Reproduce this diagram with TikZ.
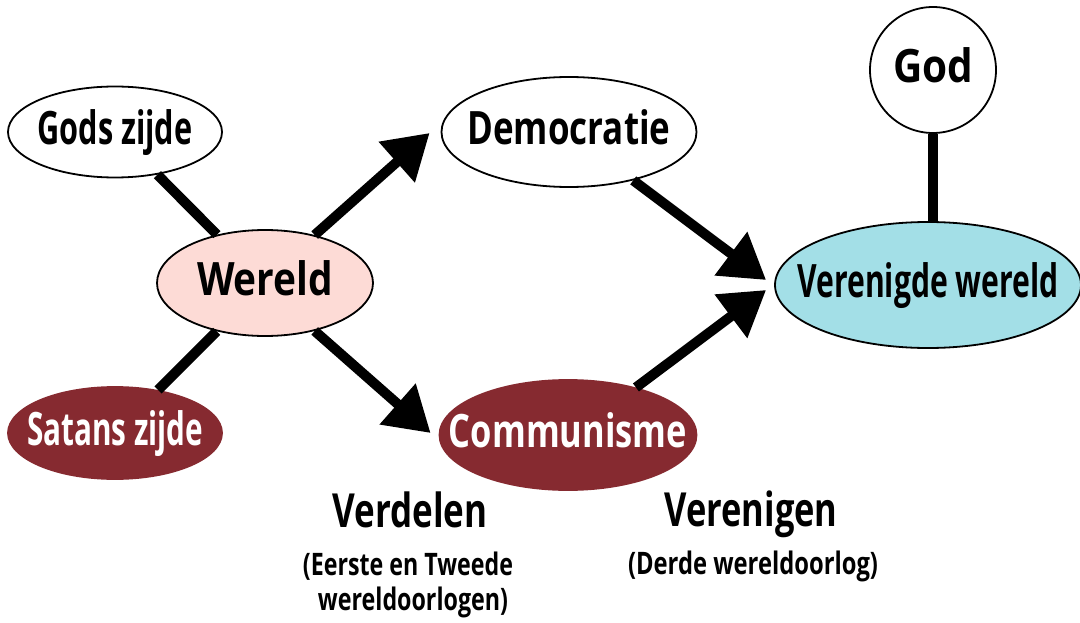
\documentclass[tikz,border=0pt]{standalone}
\usepackage{fontspec}
\usepackage{graphicx}
\newfontfamily\lblfont[FakeStretch=0.78]{Open Sans}
\usetikzlibrary{shapes.geometric,arrows.meta,calc}
\definecolor{wpink}{RGB}{253,219,214}
\definecolor{dred}{RGB}{134,42,48}
\definecolor{lblue}{RGB}{163,223,231}
\newcommand\fitw[2]{\resizebox{#1}{\height}{#2}}
\newcommand\ctext[2]{\makebox[0pt]{\smash{\raisebox{-12.5pt}{\fitw{#1}{#2}}}}}
\begin{document}
\begin{tikzpicture}[x=1pt,y=-1pt,
  el/.style={ellipse, draw=black, line width=1.8pt, inner sep=0pt, fill=white,
    font=\lblfont\bfseries\fontsize{46}{50}\selectfont},
  conn/.style={line width=10pt},
  arr/.style={conn, -{Triangle[length=44pt,width=52pt]}},
  big/.style={font=\lblfont\bfseries\fontsize{47}{50}\selectfont, inner sep=0pt, anchor=base},
  small/.style={font=\lblfont\bfseries\fontsize{31}{34}\selectfont, inner sep=0pt, anchor=base}
]
\useasboundingbox (0,0) rectangle (1080,623);

\node[el, minimum width=214pt, minimum height=91pt] (gods) at (115,132) {\ctext{155pt}{Gods zijde}};
\node[el, fill=wpink, minimum width=216pt, minimum height=106pt] (wereld) at (265,283) {\ctext{136pt}{Wereld}};
\node[el, fill=dred, draw=dred, text=white, minimum width=214pt, minimum height=92pt] (satan) at (115,433) {\ctext{176pt}{Satans zijde}};
\node[el, minimum width=255pt, minimum height=110pt] (demo) at (569,132) {\ctext{203pt}{Democratie}};
\node[el, fill=dred, draw=dred, text=white, minimum width=257pt, minimum height=110pt] (comm) at (568,435) {\ctext{238pt}{Communisme}};
\node[el, fill=lblue, minimum width=306pt, minimum height=126pt] (ver) at (928,285) {\ctext{261pt}{Verenigde wereld}};
\node[el, circle, minimum size=126pt] (god) at (933,70) {\ctext{80pt}{God}};

\draw[conn] (gods) -- (wereld);
\draw[conn] (satan) -- (wereld);
\draw[arr] (wereld.44) -- ($(demo.west)+(-11,1)$);
\draw[arr] (wereld.-44) -- ($(comm.west)+(-8,-2)$);
\draw[arr] (demo.-37) -- ($(ver.west)+(-8,-5)$);
\draw[arr] (comm.35) -- ($(ver.west)+(-8,5)$);
\draw[conn] (god) -- (god |- ver.north);

\node[big] (verdelen) at (410,527) {\fitw{155pt}{Verdelen}};
\node[small] (vd1) at (408,575) {\fitw{210pt}{(Eerste en Tweede}};
\node[small] (vd2) at (413,610) {\fitw{190pt}{wereldoorlogen)}};
\node[big] (verenigen) at (751,526) {\fitw{173pt}{Verenigen}};
\node[small] (vn1) at (753,574) {\fitw{250pt}{(Derde wereldoorlog)}};
\end{tikzpicture}
\end{document}
